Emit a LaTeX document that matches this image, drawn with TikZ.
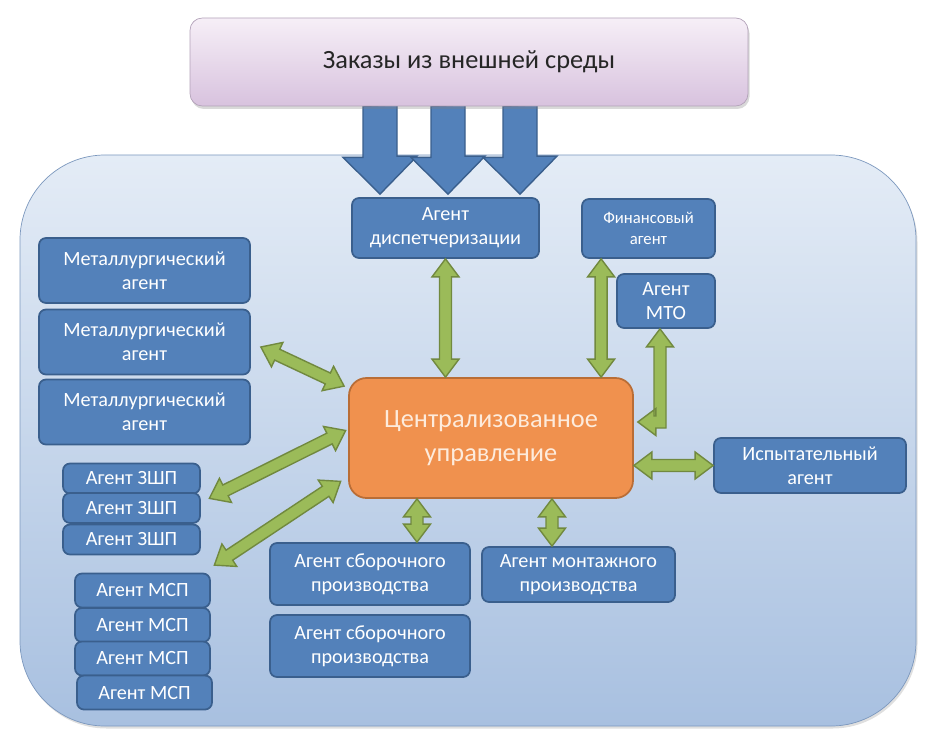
\documentclass[tikz,border=0pt]{standalone}
\usepackage{fontspec}
\setmainfont{Carlito}
\usetikzlibrary{calc,shadows,backgrounds}

\definecolor{agentblue}{HTML}{5381BA}
\definecolor{agentedge}{HTML}{3A5F8D}
\definecolor{hubfill}{HTML}{F0914E}
\definecolor{hubedge}{HTML}{B96D36}
\definecolor{hubtext}{HTML}{FDEBDC}
\definecolor{linkgreen}{HTML}{9BBB59}
\definecolor{linkedge}{HTML}{71893F}
\definecolor{envtop}{HTML}{F6EFF7}
\definecolor{envbottom}{HTML}{D8C2DE}
\definecolor{envedge}{HTML}{B3A2B9}
\definecolor{fieldtop}{HTML}{E4ECF6}
\definecolor{fieldbottom}{HTML}{A8C0E0}
\definecolor{fieldedge}{HTML}{7C98BE}

\tikzset{
  agent/.style={draw=agentedge, fill=agentblue, line width=1pt, rounded corners=4pt,
    text=white, align=center, inner sep=1pt, font=\fontsize{11.5}{13.5}\selectfont},
  hub/.style={draw=hubedge, fill=hubfill, line width=1pt, rounded corners=10pt,
    text=hubtext, align=center, font=\fontsize{15}{19}\selectfont},
  orderbox/.style={draw=envedge, top color=envtop, bottom color=envbottom, rounded corners=7pt,
    text=black!85, font=\fontsize{15}{18}\selectfont,
    drop shadow={opacity=0.3, shadow xshift=0.03cm, shadow yshift=-0.06cm}},
  inflow/.style={draw=agentedge, fill=agentblue, line width=0.8pt, line join=miter},
  link/.style={draw=linkedge, fill=linkgreen, line width=0.8pt, line join=miter},
}

% two-headed block arrow between two named points
\newcommand{\twoway}[2]{%
  \coordinate (ha) at ($(#1)!0.36cm!(#2)$);
  \coordinate (hb) at ($(#2)!0.36cm!(#1)$);
  \draw[link] (#1) -- ($(ha)!0.27cm!90:(#2)$) -- ($(ha)!0.12cm!90:(#2)$)
    -- ($(hb)!0.12cm!-90:(#1)$) -- ($(hb)!0.27cm!-90:(#1)$) -- (#2)
    -- ($(hb)!0.27cm!90:(#1)$) -- ($(hb)!0.12cm!90:(#1)$)
    -- ($(ha)!0.12cm!-90:(#2)$) -- ($(ha)!0.27cm!-90:(#2)$) -- cycle;}

\begin{document}
\begin{tikzpicture}
\useasboundingbox (0,0) rectangle (18.66,14.74);

\node[orderbox, minimum width=11.16cm, minimum height=1.76cm] (orders) at (9.38,13.50) {Заказы из внешней среды};

\node[agent, minimum width=3.74cm, minimum height=1.20cm] (dispatch) at (8.91,10.18) {Агент\\диспетчеризации};
\node[agent, minimum width=2.66cm, minimum height=1.18cm, font=\fontsize{9.5}{12}\selectfont] (finance) at (12.97,10.17) {Финансовый\\агент};
\node[agent, minimum width=1.96cm, minimum height=1.08cm] (mto) at (13.32,8.72) {Агент\\МТО};
\node[agent, minimum width=3.84cm, minimum height=1.10cm] (tester) at (16.20,5.43) {Испытательный\\агент};
\node[hub, minimum width=5.68cm, minimum height=2.40cm] (central) at (9.82,5.98) {Централизованное\\управление};

\foreach \y/\n in {9.33/1,7.90/2,6.50/3}
  \node[agent, minimum width=4.22cm, minimum height=1.30cm] (metal\n) at (2.89,\y) {Металлургический\\агент};
\foreach \y/\n in {5.17/1,4.58/2,3.95/3}
  \node[agent, minimum width=2.74cm, minimum height=0.60cm] (zsh\n) at (2.63,\y) {Агент ЗШП};
\foreach \x/\y/\n in {2.85/2.93/1,2.85/2.24/2,2.85/1.57/3,2.89/0.89/4}
  \node[agent, minimum width=2.70cm, minimum height=0.68cm] (msp\n) at (\x,\y) {Агент МСП};
\foreach \y/\n in {3.26/1,1.82/2}
  \node[agent, minimum width=4.00cm, minimum height=1.24cm] (asm\n) at (7.40,\y) {Агент сборочного\\производства};
\node[agent, minimum width=3.86cm, minimum height=1.10cm] (mount) at (11.57,3.25) {Агент монтажного\\производства};

\begin{pgfonlayer}{background}
\shadedraw[draw=fieldedge, top color=fieldtop, bottom color=fieldbottom, rounded corners=1.7cm,
  drop shadow={opacity=0.25, shadow xshift=0.03cm, shadow yshift=-0.05cm}] (0.40,0.22) rectangle (18.32,11.64);
% orders flowing in
\foreach \dx in {-1.78,-0.42,1.02}
  \draw[inflow] ($(orders.south)+(\dx-0.34,0)$) -- ++(0,-1.02) -- ++(-0.40,0)
    -- ($(orders.south |- dispatch.north)+(\dx,0.06)$) -- ++(0.74,0.76) -- ++(-0.40,0) -- ++(0,1.02) -- cycle;
\end{pgfonlayer}

% links to the hub
\coordinate (d2) at (dispatch.south |- central.north);
\twoway{dispatch.south}{d2}
\coordinate (f1) at ($(finance.south west)+(0.40,0)$);
\coordinate (f2) at (f1 |- central.north);
\twoway{f1}{f2}
\coordinate (t2) at (central.east |- tester.west);
\twoway{tester.west}{t2}
\coordinate (a1) at ($(asm1.north)+(0.94,0)$);
\coordinate (a2) at (a1 |- central.south);
\twoway{a1}{a2}
\coordinate (m1) at ($(mount.north)+(-0.53,0)$);
\coordinate (m2) at (m1 |- central.south);
\twoway{m1}{m2}
\coordinate (g1) at ($(metal2.east)+(0.20,-0.10)$);
\coordinate (g2) at ($(central.north west)+(-0.08,-0.18)$);
\twoway{g1}{g2}
\coordinate (z1) at ($(zsh1.south east)+(0.17,-0.08)$);
\coordinate (z2) at ($(central.west)+(-0.05,0.15)$);
\twoway{z1}{z2}
\coordinate (s1) at ($(msp1.north east)+(0.07,0.15)$);
\coordinate (s2) at ($(central.south west)+(-0.15,0.35)$);
\twoway{s1}{s2}

% MTO elbow
\coordinate (mt) at ($(mto.south)+(-0.12,0)$);
\coordinate (me) at ($(central.east)+(0.08,0.32)$);
\draw[link] (mt) -- ++(0.27,-0.36) -- ++(-0.15,0) -- ($(mt |- me)+(0.12,-0.12)$)
  -- ($(me)+(0.36,-0.12)$) -- ++(0,-0.15) -- (me) -- ++(0.36,0.27) -- ++(0,-0.15)
  -- ($(mt |- me)+(-0.12,0.12)$) -- ($(mt)+(-0.12,-0.36)$) -- ++(-0.15,0) -- cycle;
\end{tikzpicture}
\end{document}
